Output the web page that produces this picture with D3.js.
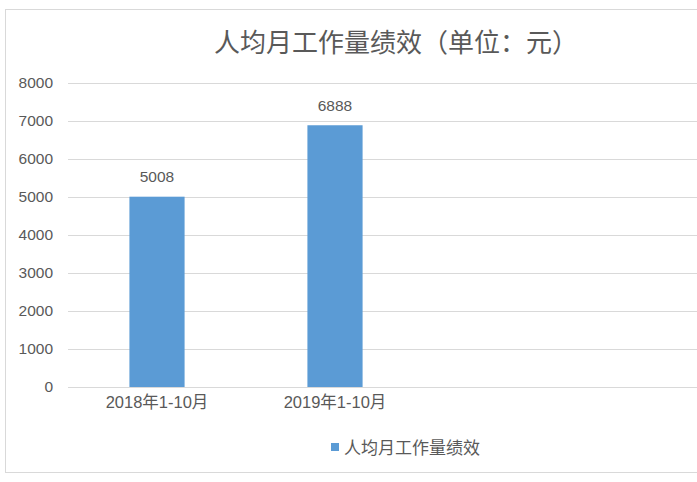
<!DOCTYPE html>
<html>
<head>
<meta charset="utf-8">
<script src="https://cdn.jsdelivr.net/npm/d3@7"></script>
<style>
  html, body { margin: 0; padding: 0; background: #ffffff; }
  svg { display: block; }
  text { font-family: "Liberation Sans", "Noto Sans CJK SC", sans-serif; fill: #595959; }
</style>
</head>
<body>
<svg id="chart" width="697" height="482"></svg>
<script>
const chartTitle = "人均月工作量绩效（单位：元）";
const seriesName = "人均月工作量绩效";
const categories = ["2018年1-10月", "2019年1-10月"];
const values = [5008, 6888];
const yTicks = [0, 1000, 2000, 3000, 4000, 5000, 6000, 7000, 8000];

const svg = d3.select("#chart");

// chart frame (extends past the right edge as in the reference)
svg.append("rect")
  .attr("x", 5.5).attr("y", 9.5)
  .attr("width", 800).attr("height", 463)
  .attr("fill", "#ffffff").attr("stroke", "#D9D9D9").attr("stroke-width", 1);

const plotLeft = 68, plotRight = 780;
const x = d3.scaleBand().domain(categories).range([plotLeft, plotLeft + 356])
  .paddingInner(0.69).paddingOuter(0.345);
const y = d3.scaleLinear().domain([0, 8000]).range([387, 83]);

// gridlines
svg.append("g").selectAll("line").data(yTicks).join("line")
  .attr("x1", plotLeft).attr("x2", plotRight)
  .attr("y1", d => Math.round(y(d)) + 0.5).attr("y2", d => Math.round(y(d)) + 0.5)
  .attr("stroke", "#D9D9D9").attr("stroke-width", 1);

// y axis labels
const yAxis = d3.axisLeft(y).tickValues(yTicks).tickSize(0).tickPadding(0).tickFormat(d3.format("d"));
const gy = svg.append("g").attr("transform", "translate(53,0)").call(yAxis);
gy.select(".domain").remove();
gy.selectAll("text").attr("font-size", 15.5).attr("fill", "#595959")
  .style("font-family", '"Liberation Sans", sans-serif');

// bars
svg.append("g").selectAll("rect").data(values).join("rect")
  .attr("x", (d, i) => x(categories[i]))
  .attr("y", d => y(d))
  .attr("width", x.bandwidth())
  .attr("height", d => y(0) - y(d))
  .attr("fill", "#5B9BD5");

// value labels
svg.append("g").selectAll("text").data(values).join("text")
  .attr("x", (d, i) => x(categories[i]) + x.bandwidth() / 2)
  .attr("y", d => y(d) - 14.5)
  .attr("text-anchor", "middle")
  .attr("font-size", 15.5)
  .style("font-family", '"Liberation Sans", sans-serif')
  .text(d => d);

// x axis labels
const xAxis = d3.axisBottom(x).tickSize(0).tickPadding(0);
const gx = svg.append("g").attr("transform", "translate(0,395)").call(xAxis);
gx.select(".domain").remove();
gx.selectAll("text").attr("font-size", 16.5).attr("fill", "#595959")
  .attr("dy", "0.8em")
  .style("font-family", '"Liberation Sans", "Noto Sans CJK SC", sans-serif');

// title
svg.append("text")
  .attr("x", 396).attr("y", 52)
  .attr("text-anchor", "middle")
  .attr("font-size", 26)
  .style("font-family", '"Noto Sans CJK SC", sans-serif')
  .text(chartTitle);

// legend
svg.append("rect").attr("x", 331).attr("y", 443).attr("width", 8).attr("height", 8).attr("fill", "#5B9BD5");
svg.append("text").attr("x", 344).attr("y", 454)
  .attr("font-size", 17)
  .style("font-family", '"Noto Sans CJK SC", sans-serif')
  .text(seriesName);
</script>
</body>
</html>
